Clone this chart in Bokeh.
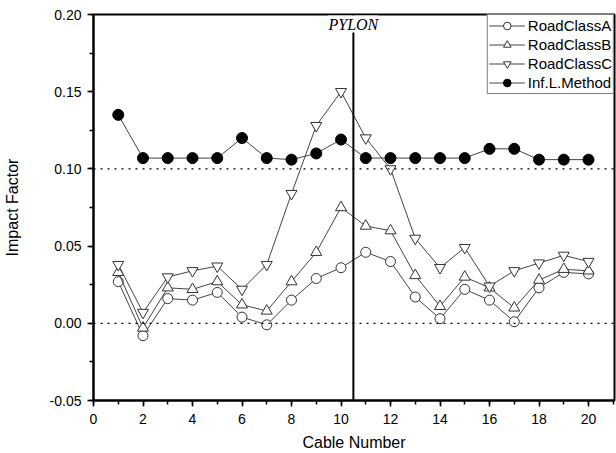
from bokeh.plotting import figure
from bokeh.models import (FixedTicker, Legend, LegendItem, Span, Label, Range1d,
                          PrintfTickFormatter)
from bokeh.embed import file_html
from bokeh.resources import INLINE

cable = [1, 2, 3, 4, 5, 6, 7, 8, 9, 10, 11, 12, 13, 14, 15, 16, 17, 18, 19, 20]
road_a = [0.027, -0.008, 0.016, 0.015, 0.020, 0.004, -0.001, 0.015, 0.029, 0.036,
          0.046, 0.040, 0.017, 0.003, 0.022, 0.015, 0.001, 0.023, 0.033, 0.032]
road_b = [0.033, -0.003, 0.023, 0.022, 0.027, 0.012, 0.008, 0.027, 0.046, 0.075,
          0.063, 0.060, 0.031, 0.011, 0.030, 0.023, 0.010, 0.028, 0.035, 0.034]
road_c = [0.038, 0.007, 0.030, 0.034, 0.037, 0.022, 0.038, 0.084, 0.128, 0.150,
          0.120, 0.100, 0.055, 0.036, 0.049, 0.024, 0.034, 0.039, 0.044, 0.040]
infl = [0.135, 0.107, 0.107, 0.107, 0.107, 0.120, 0.107, 0.106, 0.110, 0.119,
        0.107, 0.107, 0.107, 0.107, 0.107, 0.113, 0.113, 0.106, 0.106, 0.106]
series_names = ["RoadClassA", "RoadClassB", "RoadClassC", "Inf.L.Method"]
pylon_x = 10.5
ref_lines = [0.10, 0.00]

FONT = "Liberation Sans"

p = figure(width=616, height=453, output_backend="svg", toolbar_location=None,
           x_range=Range1d(0, 21.05), y_range=Range1d(-0.05, 0.20),
           min_border_left=92, min_border_right=2, min_border_top=14, min_border_bottom=53)
p.xgrid.visible = False
p.ygrid.visible = False
p.outline_line_color = "black"
p.outline_line_width = 2
p.background_fill_color = "white"
p.border_fill_color = "white"

for ax in (p.xaxis[0], p.yaxis[0]):
    ax.axis_line_width = 2
    ax.major_tick_line_width = 1.5
    ax.minor_tick_line_width = 1.5
    ax.major_tick_out = 6
    ax.major_tick_in = 0
    ax.minor_tick_out = 4
    ax.minor_tick_in = 0
    ax.major_label_text_font = FONT
    ax.major_label_text_font_size = "14px"
    ax.major_label_text_color = "black"
    ax.axis_label_text_font = FONT
    ax.axis_label_text_font_size = "16px"
    ax.axis_label_text_font_style = "normal"
    ax.axis_label_text_color = "black"

p.xaxis.ticker = FixedTicker(ticks=list(range(0, 21, 2)), minor_ticks=list(range(0, 22)))
p.yaxis.ticker = FixedTicker(ticks=[-0.05, 0.0, 0.05, 0.10, 0.15, 0.20],
                             minor_ticks=[-0.05 + 0.025 * i for i in range(11)])
p.yaxis.formatter = PrintfTickFormatter(format="%.2f")
p.xaxis.axis_label = "Cable Number"
p.yaxis.axis_label = "Impact Factor"
p.xaxis.major_label_standoff = 7
p.xaxis.axis_label_standoff = 7
p.yaxis.major_label_standoff = 6
p.yaxis.axis_label_standoff = 26

for yv in ref_lines:
    p.add_layout(Span(location=yv, dimension="width", line_color="black",
                      line_dash="2 5", line_width=1.2))

p.add_layout(Span(location=pylon_x, dimension="height", line_color="black", line_width=2))
p.add_layout(Label(x=pylon_x, y=0.20, text="PYLON", text_font="Liberation Serif",
                   text_font_style="italic", text_font_size="16px", text_align="center",
                   text_baseline="top", y_offset=-1, background_fill_color="white",
                   text_color="black"))

lc = "#444444"
items = []
specs = [(road_a, "circle", "white", 10),
         (road_b, "triangle", "white", 11),
         (road_c, "inverted_triangle", "white", 11),
         (infl, "circle", "black", 11)]
for name, (ys, mk, fill, sz) in zip(series_names, specs):
    ln = p.line(cable, ys, line_color=lc, line_width=1)
    sc = p.scatter(cable, ys, marker=mk, size=sz, fill_color=fill,
                   line_color="#333333" if fill == "white" else "black", line_width=1)
    items.append(LegendItem(label=name, renderers=[ln, sc]))

legend = Legend(items=items, location="top_right")
legend.label_text_font = FONT
legend.label_text_font_size = "15px"
legend.label_text_color = "black"
legend.border_line_color = "black"
legend.border_line_width = 1
legend.background_fill_alpha = 1
legend.glyph_width = 36
legend.glyph_height = 19
legend.label_height = 19
legend.spacing = 0
legend.padding = 1
legend.margin = 0
legend.label_standoff = 3
p.add_layout(legend)

open("out.html", "w").write(file_html(p, INLINE))
